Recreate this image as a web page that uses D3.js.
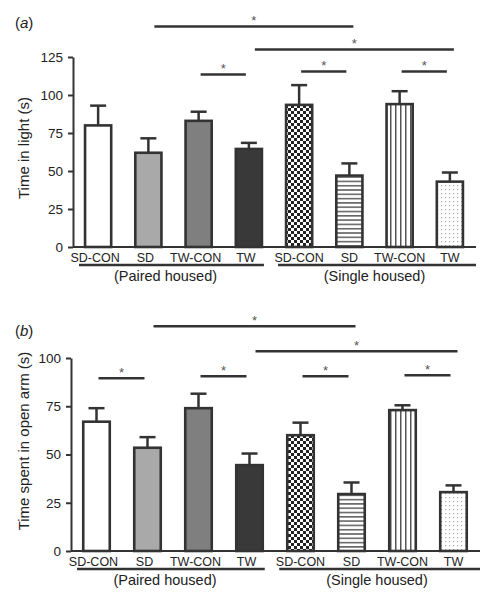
<!DOCTYPE html>
<html>
<head>
<meta charset="utf-8">
<script src="https://cdn.jsdelivr.net/npm/d3@7"></script>
<style>
body{margin:0;background:#fff;}
svg{display:block;font-family:"Liberation Sans",Arial,sans-serif;}
</style>
</head>
<body>
<svg id="chart" width="497" height="600"></svg>
<script>
// ---- data ----
const categories = ["SD-CON","SD","TW-CON","TW","SD-CON","SD","TW-CON","TW"];
const groups = ["(Paired housed)","(Single housed)"];
const fills = ["white","lightgray","midgray","darkgray","checker","hlines","vlines","dots"];

const lightMeans  = [80, 62, 83, 64.5, 93.5, 47, 94, 43];
const lightErrors = [13, 9.5, 6, 4, 13, 8, 8.5, 6];
const lightTicks  = [0, 25, 50, 75, 100, 125];
// [from index, to index, height in data units]
const lightSig = [[1,5,145],[3,7,130],[2,3,113.5],[4,5,115.5],[6,7,115.5]];

const openMeans  = [67, 53.5, 74, 44.5, 60, 29.5, 73, 30.5];
const openErrors = [7, 5.5, 7.5, 6, 6.5, 6, 2.5, 3.5];
const openTicks  = [0, 25, 50, 75, 100];
const openSig = [[1,5,116.5],[3,7,103.5],[0,1,89.5],[2,3,90.5],[4,5,90.5],[6,7,91]];

const svg = d3.select("#chart");
const defs = svg.append("defs");
const ink = "#333";

// patterns
const pC = defs.append("pattern").attr("id","checker").attr("patternUnits","userSpaceOnUse").attr("width",6).attr("height",6);
pC.append("rect").attr("width",6).attr("height",6).attr("fill","#fff");
pC.append("rect").attr("width",3).attr("height",3).attr("fill","#222");
pC.append("rect").attr("x",3).attr("y",3).attr("width",3).attr("height",3).attr("fill","#222");

const pH = defs.append("pattern").attr("id","hlines").attr("patternUnits","userSpaceOnUse").attr("width",4).attr("height",4.3);
pH.append("rect").attr("width",4).attr("height",4.3).attr("fill","#fff");
pH.append("rect").attr("y",0).attr("width",4).attr("height",1.6).attr("fill","#666");

const pV = defs.append("pattern").attr("id","vlines").attr("patternUnits","userSpaceOnUse").attr("width",5).attr("height",4);
pV.append("rect").attr("width",5).attr("height",4).attr("fill","#fff");
pV.append("rect").attr("x",0).attr("width",1.5).attr("height",4).attr("fill","#555");

const pD = defs.append("pattern").attr("id","dots").attr("patternUnits","userSpaceOnUse").attr("width",4).attr("height",4);
pD.append("rect").attr("width",4).attr("height",4).attr("fill","#fff");
pD.append("rect").attr("x",1).attr("y",1).attr("width",1.2).attr("height",1.2).attr("fill","#aaa");

const fillMap = {
  white:"#ffffff", lightgray:"#a9a9a9", midgray:"#7f7f7f", darkgray:"#393939",
  checker:"url(#checker)", hlines:"url(#hlines)", vlines:"url(#vlines)", dots:"url(#dots)"
};

function drawPanel(cfg){
  const g = svg.append("g");
  const x = d3.scaleBand().domain(d3.range(categories.length)).range([cfg.x0, cfg.x1]).paddingInner(0.48).paddingOuter(0.24);
  const y = d3.scaleLinear().domain([0, d3.max(cfg.ticks)]).range([cfg.yBase, cfg.yTop]);

  // bars
  g.selectAll("rect.bar").data(cfg.means).join("rect")
    .attr("x",(d,i)=>x(i)).attr("width",x.bandwidth())
    .attr("y",d=>y(d)).attr("height",d=>y(0)-y(d))
    .attr("fill",(d,i)=>fillMap[fills[i]])
    .attr("stroke",ink).attr("stroke-width",2.6);

  // error bars
  const eb = g.selectAll("g.eb").data(cfg.means).join("g");
  eb.append("line")
    .attr("x1",(d,i)=>x(i)+x.bandwidth()/2).attr("x2",(d,i)=>x(i)+x.bandwidth()/2)
    .attr("y1",d=>y(d)).attr("y2",(d,i)=>y(d+cfg.errors[i]))
    .attr("stroke",ink).attr("stroke-width",2.5);
  eb.append("line")
    .attr("x1",(d,i)=>x(i)+x.bandwidth()/2-8).attr("x2",(d,i)=>x(i)+x.bandwidth()/2+8)
    .attr("y1",(d,i)=>y(d+cfg.errors[i])).attr("y2",(d,i)=>y(d+cfg.errors[i]))
    .attr("stroke",ink).attr("stroke-width",2.5);

  // y axis
  const ya = g.append("g").attr("transform",`translate(${cfg.axisX},0)`)
    .call(d3.axisLeft(y).tickValues(cfg.ticks).tickSize(5).tickPadding(5).tickSizeOuter(0));
  ya.select(".domain").attr("stroke",ink).attr("stroke-width",2);
  ya.selectAll(".tick line").attr("stroke",ink).attr("stroke-width",2);
  ya.selectAll(".tick text").attr("font-size",13.5).attr("fill","#222").attr("font-family","Liberation Sans, Arial, sans-serif");

  // x axis line
  g.append("line").attr("x1",cfg.axisX).attr("x2",cfg.x1+1).attr("y1",y(0)).attr("y2",y(0))
    .attr("stroke",ink).attr("stroke-width",2);

  // category labels
  g.selectAll("text.cat").data(categories).join("text")
    .attr("x",(d,i)=>x(i)+x.bandwidth()/2 + (i<4 ? -3 : 0)).attr("y",y(0)+15)
    .attr("text-anchor","middle").attr("font-size",12.5).attr("fill","#222").text(d=>d);

  // group underlines and labels
  const gspan = [[cfg.axisX+6, x(3)+x.bandwidth()+2],[x(4)-8, cfg.x1+1]];
  groups.forEach((t,k)=>{
    g.append("line").attr("x1",gspan[k][0]).attr("x2",gspan[k][1])
      .attr("y1",y(0)+18).attr("y2",y(0)+18).attr("stroke",ink).attr("stroke-width",2.5);
    g.append("text").attr("x",k===0 ? (x(0)+x(3)+x.bandwidth())/2 - 8 : (x(4)+x(7)+x.bandwidth())/2)
      .attr("y",y(0)+34).attr("text-anchor","middle").attr("font-size",14.5).attr("fill","#222").text(t);
  });

  // significance bars
  cfg.sig.forEach(([a,b,h])=>{
    const long = (b-a)>1;
    const xa = x(a)+x.bandwidth()/2 + (long?6:2);
    const xb = x(b)+x.bandwidth()/2 + (long?4:-3);
    g.append("line").attr("x1",xa).attr("x2",xb).attr("y1",y(h)).attr("y2",y(h))
      .attr("stroke",ink).attr("stroke-width",2.5);
    g.append("text").attr("x",(xa+xb)/2).attr("y",y(h)-1.5).attr("text-anchor","middle")
      .attr("font-size",13).attr("fill","#555").text("*");
  });

  // y label
  g.append("text").attr("transform",`translate(${cfg.labelX},${cfg.labelY}) rotate(-90)`)
    .attr("text-anchor","middle").attr("font-size",15).attr("fill","#222").text(cfg.ylabel);

  // panel letter
  const pl = g.append("text").attr("x",15).attr("y",cfg.letterY).attr("font-size",15).attr("fill","#222");
  pl.append("tspan").text("(");
  pl.append("tspan").attr("font-style","italic").text(cfg.letter);
  pl.append("tspan").text(")");
}

drawPanel({
  means: lightMeans, errors: lightErrors, ticks: lightTicks, sig: lightSig,
  x0: 73, x1: 475, axisX: 73, yBase: 247, yTop: 57,
  ylabel: "Time in light (s)", labelX: 29, labelY: 148, letter: "a", letterY: 28
});
drawPanel({
  means: openMeans, errors: openErrors, ticks: openTicks, sig: openSig,
  x0: 71, x1: 479, axisX: 71, yBase: 551, yTop: 358,
  ylabel: "Time spent in open arm (s)", labelX: 29, labelY: 441, letter: "b", letterY: 336
});
</script>
</body>
</html>
